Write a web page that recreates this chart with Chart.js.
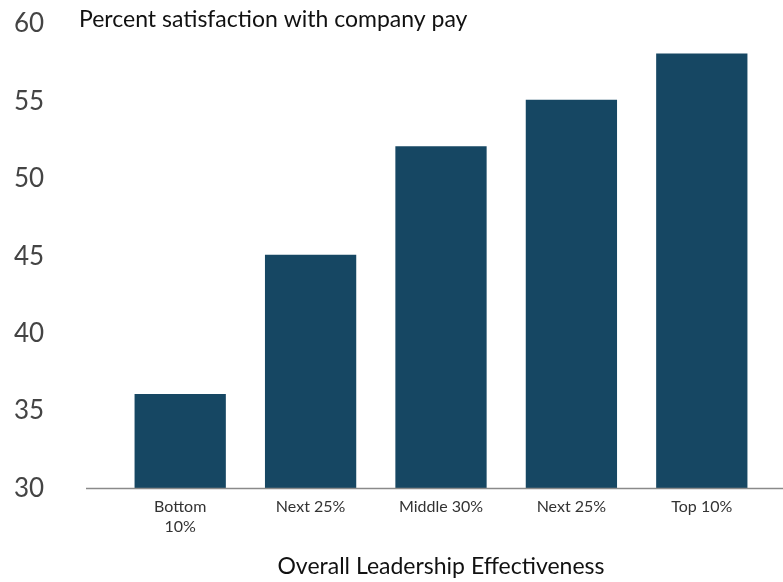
<!DOCTYPE html>
<html>
<head>
<meta charset="utf-8">
<script src="https://cdn.jsdelivr.net/npm/chart.js@4/dist/chart.umd.min.js"></script>
<style>
  html, body { margin:0; padding:0; background:#fff; }
  #wrap { width:783px; height:582px; }
</style>
</head>
<body>
<div id="wrap"><canvas id="chart" width="783" height="582"></canvas></div>
<script>
// data
var categories = [['Bottom', '10%'], 'Next 25%', 'Middle 30%', 'Next 25%', 'Top 10%'];
var satisfaction = [36.1, 45.1, 52.1, 55.1, 58.1];
var yTicks = [30, 35, 40, 45, 50, 55, 60];

var FONT = 'Lato, "Open Sans", sans-serif';

// title text top-left + baseline that runs past the plot area
var extras = {
  id: 'extras',
  afterDraw: function(chart){
    var ctx = chart.ctx, y = chart.scales.y.getPixelForValue(30);
    ctx.save();
    ctx.strokeStyle = '#8a8a8a';
    ctx.lineWidth = 1.5;
    ctx.beginPath(); ctx.moveTo(86, y); ctx.lineTo(783, y); ctx.stroke();
    ctx.fillStyle = '#111';
    ctx.font = '23px ' + FONT;
    ctx.textBaseline = 'alphabetic';
    ctx.fillText('Percent satisfaction with company pay', 79, 27);
    ctx.restore();
  }
};

new Chart(document.getElementById('chart'), {
  type: 'bar',
  data: {
    labels: categories,
    datasets: [{
      data: satisfaction,
      backgroundColor: '#164763',
      borderWidth: 0,
      barPercentage: 0.7,
      categoryPercentage: 1
    }]
  },
  options: {
    responsive: false,
    animation: false,
    layout: { padding: { top: 24, right: 16, bottom: 2, left: 14 } },
    plugins: { legend: { display: false }, tooltip: { enabled: false } },
    scales: {
      x: {
        grid: { display: false, drawTicks: false },
        border: { display: false },
        ticks: { color: '#333', font: { family: FONT, size: 16, lineHeight: 1.25 }, padding: 8, maxRotation: 0 },
        title: { display: true, text: 'Overall Leadership Effectiveness', color: '#111',
                 font: { family: FONT, size: 23 }, padding: { top: 8, bottom: 0 } }
      },
      y: {
        min: 30, max: 60,
        afterFit: function(s){ s.width = 101; },
        afterBuildTicks: function(s){ s.ticks = yTicks.map(function(v){ return { value: v }; }); },
        grid: { display: false, drawTicks: false },
        border: { display: false },
        ticks: { color: '#444', font: { family: FONT, size: 26 }, padding: 0, crossAlign: 'far' }
      }
    }
  },
  plugins: [extras]
});
</script>
</body>
</html>
